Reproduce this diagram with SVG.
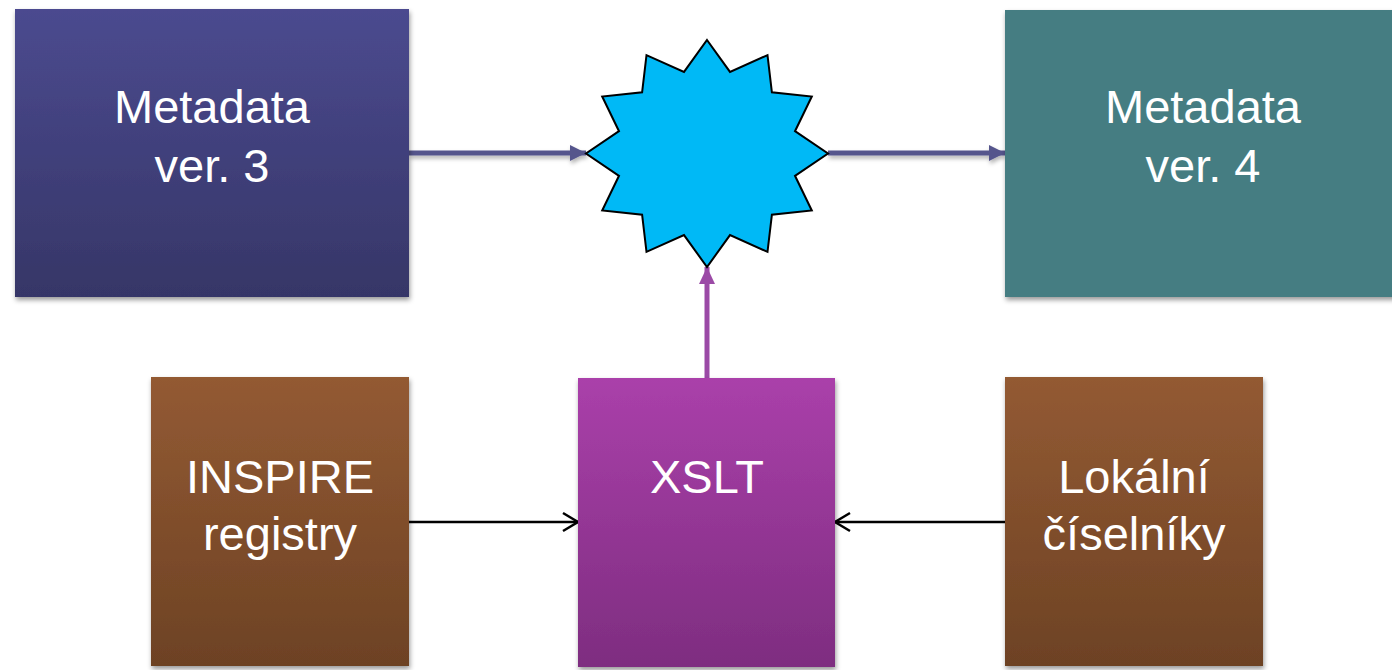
<svg xmlns="http://www.w3.org/2000/svg" width="1392" height="670" viewBox="0 0 1392 670">
<style>
.lbl{font-family:"Liberation Sans",Arial,sans-serif;font-size:47px;fill:#ffffff;text-anchor:middle}
.box{filter:url(#sh)}
.sc{filter:url(#lsh)}
</style>
<defs>
<linearGradient id="gBlue" x1="0" y1="0" x2="0" y2="1"><stop offset="0" stop-color="#4b4a8f"/><stop offset="1" stop-color="#363667"/></linearGradient>
<linearGradient id="gPurp" x1="0" y1="0" x2="0" y2="1"><stop offset="0" stop-color="#aa40aa"/><stop offset="1" stop-color="#7e2d80"/></linearGradient>
<linearGradient id="gBrown" x1="0" y1="0" x2="0" y2="1"><stop offset="0" stop-color="#935a33"/><stop offset="1" stop-color="#6d4224"/></linearGradient>
<filter id="sh" x="-10%" y="-10%" width="125%" height="125%"><feDropShadow dx="1" dy="3" stdDeviation="2.5" flood-color="#000" flood-opacity="0.4"/></filter>
<filter id="lsh" filterUnits="userSpaceOnUse" x="0" y="0" width="1392" height="670"><feDropShadow dx="1" dy="3" stdDeviation="2" flood-color="#000" flood-opacity="0.3"/></filter>
<marker id="aSlate" markerUnits="userSpaceOnUse" markerWidth="18" markerHeight="18" refX="16" refY="8" orient="auto"><path d="M0,0 L16,8 L0,16 Z" fill="#55558c"/></marker>
<marker id="aPurp" markerUnits="userSpaceOnUse" markerWidth="18" markerHeight="18" refX="17" refY="8" orient="auto"><path d="M0,0 L17,8 L0,16 Z" fill="#9b4aa6"/></marker>
<marker id="aOpen" markerUnits="userSpaceOnUse" markerWidth="20" markerHeight="24" refX="17" refY="11" orient="auto"><path d="M2,2 L17,11 L2,20" fill="none" stroke="#000" stroke-width="2.5"/></marker>
</defs>
<rect width="1392" height="670" fill="#ffffff"/>
<g id="connectors">
<path class="sc" d="M409,153 H586" fill="none" stroke="#55558c" stroke-width="5" marker-end="url(#aSlate)"/>
<path class="sc" d="M828,153 H1005" fill="none" stroke="#55558c" stroke-width="5" marker-end="url(#aSlate)"/>
<path d="M707,378 V267" fill="none" stroke="#9b4aa6" stroke-width="5" marker-end="url(#aPurp)"/>
<path d="M409,522 H578" fill="none" stroke="#000" stroke-width="2.5" marker-end="url(#aOpen)"/>
<path d="M1005,522 H835" fill="none" stroke="#000" stroke-width="2.5" marker-end="url(#aOpen)"/>
</g>
<g id="meta3">
<rect class="box" x="15" y="9" width="394" height="288" fill="url(#gBlue)"/>
<text class="lbl" x="212" y="123">Metadata</text>
<text class="lbl" x="212" y="182">ver. 3</text>
</g>
<g id="meta4">
<rect class="box" x="1005" y="10" width="400" height="287" fill="#447d82"/>
<text class="lbl" x="1203" y="123">Metadata</text>
<text class="lbl" x="1203" y="182">ver. 4</text>
</g>
<g id="star">
<polygon points="707,40 730.0,71.9 767.5,55.1 771.9,92.3 811.8,96.5 795.0,131.2 828,153.5 795.0,175.8 811.8,210.5 771.9,214.7 767.5,251.9 730.0,235.1 707,267 684.0,235.1 646.5,251.9 642.1,214.7 602.2,210.5 619.0,175.8 586,153.5 619.0,131.2 602.2,96.5 642.1,92.3 646.5,55.1 684.0,71.9" fill="#00b9f6" stroke="#000" stroke-width="2" stroke-linejoin="miter"/>
</g>
<g id="inspire">
<rect class="box" x="151" y="377" width="258" height="289" fill="url(#gBrown)"/>
<text class="lbl" x="280" y="493">INSPIRE</text>
<text class="lbl" x="280" y="550">registry</text>
</g>
<g id="xslt">
<rect class="box" x="578" y="378" width="257" height="289" fill="url(#gPurp)"/>
<text class="lbl" x="707" y="493">XSLT</text>
</g>
<g id="lokalni">
<rect class="box" x="1005" y="377" width="258" height="289" fill="url(#gBrown)"/>
<text class="lbl" x="1134" y="493">Lokální</text>
<text class="lbl" x="1134" y="550">číselníky</text>
</g>
</svg>
